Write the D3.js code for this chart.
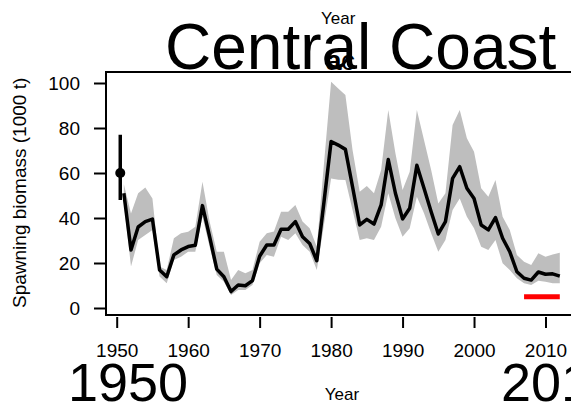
<!DOCTYPE html>
<html>
<head>
<meta charset="utf-8">
<script src="https://cdn.jsdelivr.net/npm/d3@7"></script>
<style>
  body { margin: 0; background: #fff; }
  svg { font-family: "Liberation Sans", Arial, sans-serif; }
</style>
</head>
<body>
<div id="graphe"></div>
<script>
// donnees
let annees = [1951,1952,1953,1954,1955,1956,1957,1958,1959,1960,
              1961,1962,1963,1964,1965,1966,1967,1968,1969,1970,
              1971,1972,1973,1974,1975,1976,1977,1978,1979,1980,
              1981,1982,1983,1984,1985,1986,1987,1988,1989,1990,
              1991,1992,1993,1994,1995,1996,1997,1998,1999,2000,
              2001,2002,2003,2004,2005,2006,2007,2008,2009,2010,
              2011,2012];
let biomasse = [51,25.8,36,38.4,39.5,16.9,13.9,23.6,25.8,27.3,
                27.9,45.5,31.7,17.3,13.9,7.3,10.2,9.9,12.2,23,
                28,28,35,35,38.4,31.7,28.7,21,47,74,
                72.4,70.5,53.9,36.9,39.4,37.3,45.8,66,51,39.6,
                44.3,63.4,53.2,42.8,32.9,38.4,57.6,62.8,53.2,48.7,
                36.9,34.7,40.2,31,25,16.1,13.2,12.4,16,15,
                15.2,14.2];
let haut = [55,42,51,53.6,48.7,18.4,16.9,31,33.2,33.9,
            36.1,56.1,38.4,25,25,12.4,16.9,15.4,16.9,29.5,
            33.2,34,42.8,42.8,45.8,38.4,35.4,27.2,64,100.6,
            97.6,94.7,70.2,51.7,54.2,51,61.3,88,68.8,52.4,
            60.6,88,74.7,61.3,46.5,51,81.3,88,75.4,69.5,
            53.2,49.5,56.9,40.6,34.7,23.6,20.6,19.1,24.3,22.8,
            23.8,24.6];
let bas = [46.7,18.4,30.2,32.4,34.7,14,11,21.3,22.8,25,
           25,40.6,27.2,14.7,11.7,5.8,8,8,10.2,19.9,
           23.6,22.8,31.7,30.2,33.2,28,25,16.9,37,57.6,
           57,56.9,43.6,30.2,31,30.2,36.1,51,39.9,31.7,
           35.4,49.5,42.1,33.2,25,30.2,43.6,48.7,40.6,35.4,
           27.2,25.8,30.2,19.9,16.9,13.2,11,10.2,12.1,11.7,
           11,11];
// point initial (annee, valeur, intervalle)
let initAnnee = [1950.5];
let initVal = [60];
let initInt = [48, 77];
// reference (trait rouge)
let refAnnees = [2007, 2012];
let refVal = [5];
let ticksX = [1950,1960,1970,1980,1990,2000,2010];
let ticksY = [0,20,40,60,80,100];

let largeur = 571, hauteur = 403;
let svg = d3.select("#graphe").append("svg").attr("width",largeur).attr("height",hauteur);

let x = d3.scaleLinear().domain([1950,2010]).range([116.7,545.5]);
let y = d3.scaleLinear().domain([0,100]).range([308,83]);

// bande grise
let aire = d3.area().x((d,i)=>x(annees[i])).y0((d,i)=>y(bas[i])).y1((d,i)=>y(haut[i]));
svg.append("path").attr("d",aire(annees)).attr("fill","#bebebe");

// courbe
let ligne = d3.line().x((d,i)=>x(annees[i])).y((d,i)=>y(biomasse[i]));
svg.append("path").attr("d",ligne(annees)).attr("fill","none")
  .attr("stroke","black").attr("stroke-width",3.5).attr("stroke-linejoin","round");

// point initial + barre
svg.append("line").attr("x1",x(initAnnee[0])).attr("x2",x(initAnnee[0]))
  .attr("y1",y(initInt[0])).attr("y2",y(initInt[1]))
  .attr("stroke","black").attr("stroke-width",3.5);
svg.append("circle").attr("cx",x(initAnnee[0])).attr("cy",y(initVal[0])).attr("r",5).attr("fill","black");

// trait rouge
svg.append("line").attr("x1",x(refAnnees[0])).attr("x2",x(refAnnees[1]))
  .attr("y1",y(refVal[0])).attr("y2",y(refVal[0]))
  .attr("stroke","red").attr("stroke-width",5);

// cadre
svg.append("path").attr("d","M575,72H106V315H575").attr("fill","none")
  .attr("stroke","black").attr("stroke-width",2);

// axes
let axeY = svg.append("g").attr("transform","translate(106,0)")
  .call(d3.axisLeft(y).tickValues(ticksY).tickSize(12).tickPadding(14));
let axeX = svg.append("g").attr("transform","translate(0,317)")
  .call(d3.axisBottom(x).tickValues(ticksX).tickFormat(d3.format("d")).tickSize(11).tickPadding(16));
svg.selectAll(".domain").remove();
svg.selectAll(".tick line").attr("stroke","black").attr("stroke-width",2);
svg.selectAll(".tick text").attr("font-size","19px").attr("fill","black")
  .attr("font-family","'Liberation Sans', Arial, sans-serif");

// textes
svg.append("text").attr("x",165).attr("y",69).attr("font-size","64px").text("Central Coast");
svg.append("text").attr("x",321).attr("y",24).attr("font-size","17px").text("Year");
svg.append("text").attr("x",326).attr("y",70).attr("font-size","28px").attr("font-weight","bold").text("a");
svg.append("text").attr("x",341).attr("y",70).attr("font-size","28px").text("c");
svg.append("text").attr("x",342).attr("y",400).attr("font-size","17px").attr("text-anchor","middle").text("Year");
svg.append("text").attr("x",68).attr("y",401).attr("font-size","54px").text("1950");
svg.append("text").attr("x",501).attr("y",401).attr("font-size","54px").text("2012");
svg.append("text").attr("transform","translate(26,"+y(0)+") rotate(-90)")
  .attr("font-size","19px").text("Spawning biomass (1000 t)");
</script>
</body>
</html>
